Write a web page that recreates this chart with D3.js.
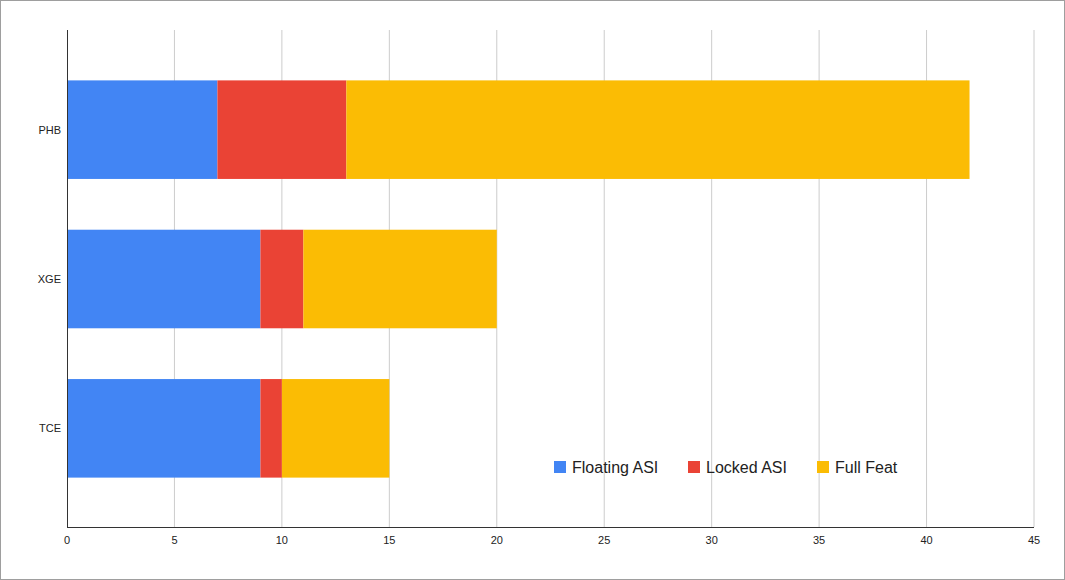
<!DOCTYPE html>
<html><head><meta charset="utf-8">
<script src="https://cdn.jsdelivr.net/npm/d3@7"></script>
<style>body{margin:0;background:#fff}svg{display:block}</style>
</head><body><svg id="c" width="1065" height="580"></svg>
<script>
const categories = ["PHB","XGE","TCE"];
const seriesNames = ["Floating ASI","Locked ASI","Full Feat"];
const floating = [7,9,9];
const locked = [6,2,1];
const fullFeat = [29,9,5];
const xTicks = [0,5,10,15,20,25,30,35,40,45];
const colors = ["#4285f4","#ea4335","#fbbc04"];

(function(){
const svg = d3.select("#c");
svg.append("rect").attr("x",0.5).attr("y",0.5).attr("width",1064).attr("height",579).attr("fill","#fff").attr("stroke","#9e9e9e");
const x = d3.scaleLinear().domain([0,45]).range([67,1034]);
const y = d3.scaleBand().domain(categories).range([55,503]).paddingInner(0.34).paddingOuter(0.17);
const plotTop=30,plotBottom=527;
svg.append("g").selectAll("line").data(xTicks.slice(1)).join("line")
 .attr("x1",d=>x(d)).attr("x2",d=>x(d)).attr("y1",plotTop).attr("y2",plotBottom).attr("stroke","#cccccc");
const rows = categories.map((c,i)=>({cat:c,"Floating ASI":floating[i],"Locked ASI":locked[i],"Full Feat":fullFeat[i]}));
const stack = d3.stack().keys(seriesNames)(rows);
svg.append("g").selectAll("g").data(stack).join("g").attr("fill",(d,i)=>colors[i])
 .selectAll("rect").data(d=>d).join("rect")
 .attr("x",d=>x(d[0])).attr("width",d=>x(d[1])-x(d[0]))
 .attr("y",d=>y(d.data.cat)).attr("height",y.bandwidth());
svg.append("line").attr("x1",67.5).attr("x2",67.5).attr("y1",plotTop).attr("y2",plotBottom).attr("stroke","#333");
svg.append("line").attr("x1",67).attr("x2",1034).attr("y1",plotBottom+0.5).attr("y2",plotBottom+0.5).attr("stroke","#333");
svg.append("g").selectAll("text").data(xTicks).join("text")
 .attr("x",d=>x(d)).attr("y",544).attr("text-anchor","middle").attr("font-family","Arial, Liberation Sans").attr("font-size",11).attr("fill","#222").text(d=>d);
svg.append("g").selectAll("text").data(categories).join("text")
 .attr("x",61).attr("y",d=>y(d)+y.bandwidth()/2+4).attr("text-anchor","end").attr("font-family","Arial, Liberation Sans").attr("font-size",11).attr("fill","#222").text(d=>d);
const lx=[554,688,817];
const lg=svg.append("g").selectAll("g").data(seriesNames).join("g").attr("transform",(d,i)=>`translate(${lx[i]},461)`);
lg.append("rect").attr("width",12).attr("height",12).attr("fill",(d,i)=>colors[i]);
lg.append("text").attr("x",18).attr("y",11.5).attr("font-family","Arial, Liberation Sans").attr("font-size",16).attr("fill","#222").text(d=>d);
})();
</script></body></html>
